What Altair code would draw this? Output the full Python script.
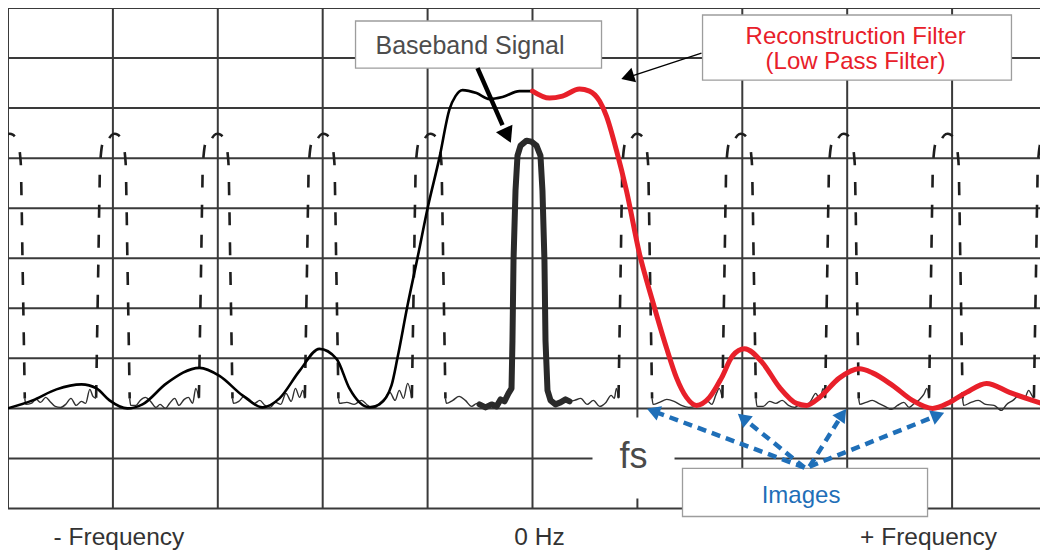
import altair as alt
import pandas as pd

# ---------------- frame (frequency in units of fs, level in grid divisions) -------------
X_MIN, X_MAX = -5.0, 4.838
Y_MIN, Y_MAX = -0.829, 10.0
W, H = 1032, 542

grid_x = [-5, -4, -3, -2, -1, 0, 1, 2, 3, 4]
grid_y = [0, 1, 2, 3, 4, 5, 6, 7, 8, 9, 10]

# ---------------- reconstruction filter response ----------------
filter_black_x = [-5.005, -4.766, -4.538, -4.299, -4.156, -4.032, -3.861, -3.718, -3.489, -3.174,
                  -2.984, -2.765, -2.574, -2.412, -2.221, -2.031, -1.868, -1.745, -1.649, -1.554,
                  -1.459, -1.344, -1.287, -1.192, -1.096, -1.001, -0.887, -0.791, -0.734, -0.667,
                  -0.534, -0.410, -0.286, -0.124, 0.000]
filter_black_y = [2.00, 2.16, 2.38, 2.48, 2.40, 2.16, 2.00, 2.08, 2.50, 2.81,
                  2.65, 2.26, 2.02, 2.20, 2.75, 3.19, 2.99, 2.40, 2.12, 2.02,
                  2.08, 2.46, 3.01, 4.05, 5.01, 5.99, 7.01, 7.98, 8.24, 8.36,
                  8.30, 8.18, 8.22, 8.34, 8.34]

filter_red_x = [0.000, 0.162, 0.286, 0.448, 0.543, 0.639, 0.705, 0.801, 0.896, 1.020,
                1.144, 1.277, 1.373, 1.468, 1.563, 1.687, 1.802, 1.907, 2.021, 2.193,
                2.355, 2.517, 2.612, 2.736, 2.927, 3.117, 3.241, 3.432, 3.622, 3.813,
                3.975, 4.137, 4.328, 4.547, 4.766, 4.909]
filter_red_y = [8.34, 8.20, 8.24, 8.38, 8.34, 8.14, 7.84, 7.15, 6.35, 5.09,
                4.15, 3.21, 2.61, 2.22, 2.06, 2.22, 2.61, 3.05, 3.19, 2.91,
                2.42, 2.10, 2.06, 2.22, 2.61, 2.79, 2.71, 2.46, 2.16, 2.00,
                2.12, 2.32, 2.50, 2.32, 2.16, 2.06]

# ---------------- baseband signal ----------------
baseband_x = [-0.505, -0.448, -0.391, -0.343, -0.305, -0.267, -0.229, -0.200, -0.191, -0.181,
              -0.162, -0.143, -0.114, -0.057, -0.010, 0.038, 0.076, 0.095, 0.114, 0.124,
              0.143, 0.172, 0.219, 0.267, 0.315, 0.353]
baseband_y = [2.08, 2.02, 2.08, 2.04, 2.18, 2.14, 2.30, 2.40, 3.35, 4.95,
              6.35, 7.05, 7.25, 7.35, 7.33, 7.25, 7.05, 6.35, 4.95, 3.35,
              2.36, 2.16, 2.08, 2.12, 2.18, 2.14]

# ---------------- images (dashed), drawn as two halves from the top down ----------------
image_centers = [-5.0, -4.0, -3.02, -2.01, -0.99, 0.98, 1.97, 2.95, 3.94, 4.94]
image_right_dx = [-0.035, 0.000, 0.045, 0.090, 0.118, 0.128, 0.138, 0.150, 0.160]
image_right_y = [7.40, 7.48, 7.47, 7.35, 7.00, 6.30, 5.00, 3.50, 2.20]
image_left_dx = [0.000, -0.045, -0.090, -0.118, -0.128, -0.138, -0.150, -0.160]
image_left_y = [7.48, 7.47, 7.35, 7.00, 6.30, 5.00, 3.50, 2.20]

# ---------------- noise floor ----------------
noise_a_x = [-4.84, -4.83, -4.78, -4.73, -4.69, -4.64, -4.60, -4.55, -4.50, -4.45, -4.40, -4.35, -4.30, -4.26, -4.22, -4.19, -4.16]
noise_a_y = [2.20, 2.08, 2.10, 2.18, 2.12, 2.22, 2.14, 2.04, 2.02, 2.08, 2.20, 2.06, 2.14, 2.10, 2.38, 2.24, 2.20]
noise_b_x = [-3.84, -3.83, -3.78, -3.74, -3.69, -3.64, -3.59, -3.55, -3.50, -3.46, -3.41, -3.37, -3.32, -3.28, -3.24, -3.21, -3.18]
noise_b_y = [2.20, 2.06, 2.06, 2.16, 2.22, 2.14, 2.02, 2.08, 2.00, 2.10, 2.20, 2.06, 2.18, 2.22, 2.10, 2.40, 2.20]
noise_c_x = [-2.86, -2.85, -2.80, -2.75, -2.70, -2.65, -2.60, -2.55, -2.50, -2.45, -2.40, -2.35, -2.30, -2.26, -2.22, -2.19, -2.17]
noise_c_y = [2.20, 2.10, 2.14, 2.24, 2.18, 2.10, 2.16, 2.06, 2.02, 2.12, 2.08, 2.30, 2.14, 2.40, 2.22, 2.36, 2.20]
noise_d_x = [-1.85, -1.84, -1.77, -1.70, -1.63, -1.57, -1.51, -1.46, -1.41, -1.36, -1.31, -1.27, -1.23, -1.19, -1.15]
noise_d_y = [2.20, 2.10, 2.12, 2.08, 2.16, 2.06, 2.00, 2.10, 2.20, 2.32, 2.16, 2.36, 2.20, 2.50, 2.20]
noise_e_x = [-0.83, -0.82, -0.76, -0.70, -0.64, -0.58, -0.53, -0.505]
noise_e_y = [2.20, 2.10, 2.16, 2.24, 2.16, 2.04, 2.10, 2.08]
noise_f_x = [0.353, 0.40, 0.46, 0.52, 0.58, 0.64, 0.70, 0.75, 0.78, 0.80, 0.82]
noise_f_y = [2.14, 2.16, 2.20, 2.08, 2.16, 2.04, 2.12, 2.26, 2.20, 2.40, 2.20]
noise_g_x = [1.14, 1.15, 1.21, 1.28, 1.35, 1.42, 1.49, 1.55, 1.60, 1.66, 1.71, 1.75, 1.78, 1.81]
noise_g_y = [2.20, 2.08, 2.12, 2.18, 2.14, 2.06, 2.02, 2.04, 2.10, 2.16, 2.08, 2.28, 2.40, 2.20]
noise_h_x = [2.13, 2.14, 2.20, 2.26, 2.32, 2.38, 2.44, 2.50, 2.55, 2.60, 2.65, 2.70, 2.74, 2.77, 2.79]
noise_h_y = [2.20, 2.04, 2.04, 2.14, 2.10, 2.16, 2.06, 2.02, 2.08, 2.06, 2.14, 2.30, 2.18, 2.40, 2.20]
noise_i_x = [3.11, 3.12, 3.18, 3.24, 3.30, 3.36, 3.42, 3.48, 3.54, 3.59, 3.64, 3.69, 3.73, 3.76, 3.78]
noise_i_y = [2.20, 2.08, 2.12, 2.16, 2.10, 2.04, 1.98, 2.06, 2.12, 2.02, 2.10, 2.18, 2.28, 2.40, 2.20]
noise_j_x = [4.10, 4.11, 4.18, 4.25, 4.32, 4.40, 4.47, 4.52, 4.58, 4.64, 4.69, 4.73, 4.76, 4.78]
noise_j_y = [2.20, 2.06, 2.12, 2.16, 2.08, 2.06, 1.96, 2.08, 2.16, 2.26, 2.20, 2.36, 2.26, 2.20]

# ---------------- annotation boxes ----------------
box_names = ["baseband", "recon", "images"]
box_x0 = [-1.687, 1.621, 1.430]
box_x1 = [0.658, 4.566, 3.766]
box_y0 = [8.80, 8.56, -0.16]
box_y1 = [9.74, 9.86, 0.80]
fs_patch_x = [0.572, 1.354]
fs_patch_y = [0.20, 1.82]

# ---------------- arrows ----------------
arrow_names = ["baseband", "recon", "img1", "img2", "img3", "img4"]
arrow_x0 = [-0.524, 1.611, 2.593, 2.593, 2.641, 2.641]
arrow_y0 = [8.80, 9.10, 0.818, 0.818, 0.838, 0.838]
arrow_x1 = [-0.286, 0.944, 1.150, 2.006, 2.954, 3.866]
arrow_y1 = [7.66, 8.64, 1.946, 1.808, 1.882, 1.864]
head_x = [-0.238, 0.906, 1.150, 2.006, 2.954, 3.866]
head_y = [7.45, 8.62, 1.946, 1.808, 1.882, 1.864]
head_angle = [155, 252, 290.5, 309.3, 35.4, 68.6]

# ---------------- texts ----------------
label_text = ["- Frequency", "0 Hz", "+ Frequency"]
label_x = [-3.942, 0.067, 3.775]
label_y = [-0.739, -0.739, -0.739]

RED = "#e8202a"
BLUE = "#1f6fb8"
GRID = "#3a3a3a"
FONT = "Liberation Sans"

xs = alt.Scale(domain=[X_MIN, X_MAX], nice=False, zero=False)
ys = alt.Scale(domain=[Y_MIN, Y_MAX], nice=False, zero=False)


def X(f):
    return alt.X(f, type="quantitative", scale=xs, axis=None)


def Y(f):
    return alt.Y(f, type="quantitative", scale=ys, axis=None)


# grid
vgrid = alt.Chart(pd.DataFrame({"x": grid_x, "y0": 0, "y1": 10})).mark_rule(
    color=GRID, strokeWidth=2).encode(x=X("x"), y=Y("y0"), y2=alt.Y2("y1"))
hgrid = alt.Chart(pd.DataFrame({"y": grid_y, "x0": X_MIN, "x1": X_MAX})).mark_rule(
    color=GRID, strokeWidth=2).encode(y=Y("y"), x=X("x0"), x2=alt.X2("x1"))

# noise
noise_sets = [(noise_a_x, noise_a_y), (noise_b_x, noise_b_y), (noise_c_x, noise_c_y),
              (noise_d_x, noise_d_y), (noise_e_x, noise_e_y), (noise_f_x, noise_f_y),
              (noise_g_x, noise_g_y), (noise_h_x, noise_h_y), (noise_i_x, noise_i_y),
              (noise_j_x, noise_j_y)]
rows = []
for k, (nx, ny) in enumerate(noise_sets):
    for i, (a, b) in enumerate(zip(nx, ny)):
        rows.append({"x": a, "y": b, "seg": k, "o": i})
noise = alt.Chart(pd.DataFrame(rows)).mark_line(
    color="#303030", strokeWidth=1.4, clip=True, interpolate="monotone").encode(
    x=X("x"), y=Y("y"), detail="seg:N", order="o:Q")


# dashed images
def image_half(dxs, yvals, offset):
    rows = []
    for k, c in enumerate(image_centers):
        for i, (d, yy) in enumerate(zip(dxs, yvals)):
            rows.append({"x": c + d, "y": yy, "seg": k, "o": i})
    return alt.Chart(pd.DataFrame(rows)).mark_line(
        color="#1e1e1e", strokeWidth=2.6, strokeDash=[13, 17], strokeDashOffset=offset,
        clip=True, interpolate="catmull-rom").encode(
        x=X("x"), y=Y("y"), detail="seg:N", order="o:Q")


images_r = image_half(image_right_dx, image_right_y, 0)
images_l = image_half(image_left_dx, image_left_y, 13)

black = alt.Chart(pd.DataFrame({"x": filter_black_x, "y": filter_black_y,
                                "o": range(len(filter_black_x))})).mark_line(
    color="#000000", strokeWidth=2.6, interpolate="monotone", clip=True).encode(
    x=X("x"), y=Y("y"), order="o:Q")

baseband = alt.Chart(pd.DataFrame({"x": baseband_x, "y": baseband_y,
                                   "o": range(len(baseband_x))})).mark_line(
    color="#2a2a2a", strokeWidth=6, strokeJoin="round", strokeCap="round").encode(
    x=X("x"), y=Y("y"), order="o:Q")

red = alt.Chart(pd.DataFrame({"x": filter_red_x, "y": filter_red_y,
                              "o": range(len(filter_red_x))})).mark_line(
    color=RED, strokeWidth=5, interpolate="monotone", clip=True, strokeCap="round").encode(
    x=X("x"), y=Y("y"), order="o:Q")

fs_patch = alt.Chart(pd.DataFrame({"x0": [fs_patch_x[0]], "x1": [fs_patch_x[1]],
                                   "y0": [fs_patch_y[0]], "y1": [fs_patch_y[1]]})).mark_rect(
    fill="white", strokeWidth=0).encode(x=X("x0"), x2=alt.X2("x1"), y=Y("y0"), y2=alt.Y2("y1"))

boxes = alt.Chart(pd.DataFrame({"n": box_names, "x0": box_x0, "x1": box_x1,
                                "y0": box_y0, "y1": box_y1})).mark_rect(
    fill="white", stroke="#9d9d9d", strokeWidth=1.3).encode(
    x=X("x0"), x2=alt.X2("x1"), y=Y("y0"), y2=alt.Y2("y1"))


# arrows
def shaft(idx, color, width, dash=None):
    rows = []
    for k in idx:
        rows.append({"x": arrow_x0[k], "y": arrow_y0[k], "seg": arrow_names[k], "o": 0})
        rows.append({"x": arrow_x1[k], "y": arrow_y1[k], "seg": arrow_names[k], "o": 1})
    kw = dict(color=color, strokeWidth=width)
    if dash:
        kw["strokeDash"] = dash
    return alt.Chart(pd.DataFrame(rows)).mark_line(**kw).encode(
        x=X("x"), y=Y("y"), detail="seg:N", order="o:Q")


def heads(idx, color, size):
    df = pd.DataFrame({"x": [head_x[k] for k in idx], "y": [head_y[k] for k in idx],
                       "a": [head_angle[k] for k in idx]})
    return alt.Chart(df).mark_point(shape="triangle-up", filled=True, opacity=1,
                                    color=color, size=size, strokeWidth=0).encode(
        x=X("x"), y=Y("y"), angle=alt.Angle("a", type="quantitative", scale=None))


bb_shaft = shaft([0], "#000000", 4.5)
bb_head = heads([0], "#000000", 330)
rc_shaft = shaft([1], "#000000", 1.4)
rc_head = heads([1], "#000000", 230)
bl_shaft = shaft([2, 3, 4, 5], BLUE, 4.5, dash=[9, 6])
bl_head = heads([2, 3, 4, 5], BLUE, 230)


def text(tx, x, y, size, color):
    return alt.Chart(pd.DataFrame({"t": tx, "x": x, "y": y})).mark_text(
        font=FONT, fontSize=size, color=color, align="center", baseline="alphabetic").encode(
        x=X("x"), y=Y("y"), text="t:N")


t_bb = text(["Baseband Signal"], [-0.596], [9.08], 25, "#4d4d4d")
t_rc = text(["Reconstruction Filter", "(Low Pass Filter)"], [3.08, 3.08], [9.28, 8.79], 24, RED)
t_fs = text(["fs"], [0.963], [0.80], 36, "#4a4a4a")
t_im = text(["Images"], [2.56], [0.12], 24, BLUE)
t_lb = text(label_text, label_x, label_y, 24.5, "#333333")

chart = alt.layer(
    vgrid, hgrid, noise, images_r, images_l, black, baseband, red, fs_patch, boxes,
    bb_shaft, bb_head, rc_shaft, rc_head, bl_shaft, bl_head,
    t_bb, t_rc, t_fs, t_im, t_lb,
).properties(
    width=W, height=H, padding=0, autosize=alt.AutoSizeParams(type="none"),
    background="white",
).configure_view(stroke=None)

chart.save("out.html", embed_options={"renderer": "svg", "actions": False})
